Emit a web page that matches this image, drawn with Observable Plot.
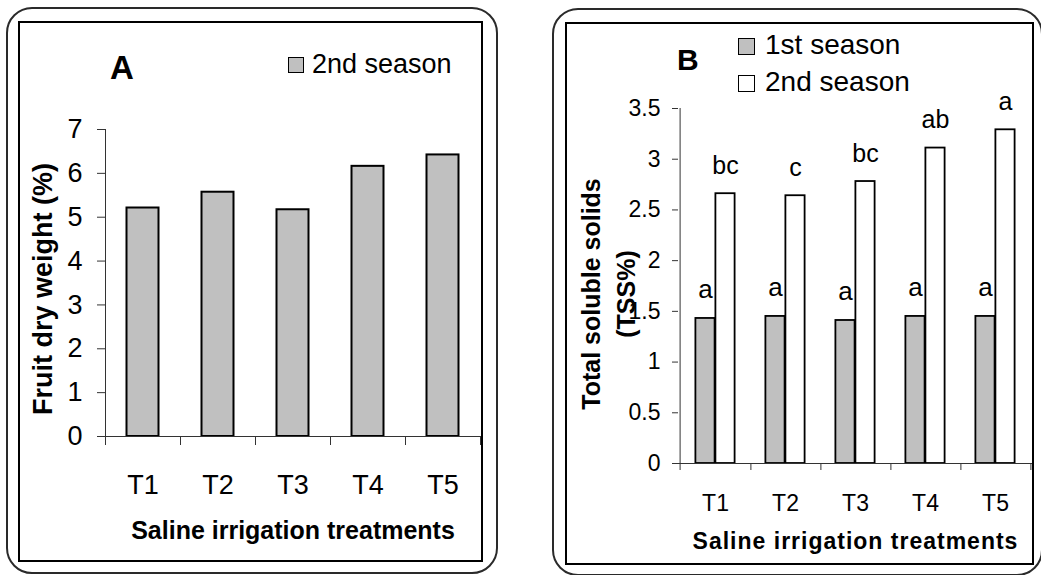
<!DOCTYPE html>
<html><head><meta charset="utf-8">
<script src="https://cdn.jsdelivr.net/npm/d3@7"></script>
<script src="https://cdn.jsdelivr.net/npm/@observablehq/plot@0.6"></script>
<style>
body{margin:0;background:#fff;font-family:"Liberation Sans",Arial,sans-serif;}
#wrap{position:relative;width:1041px;height:575px;overflow:hidden;background:#fff;}
.outer{position:absolute;border:2px solid #2a2a2a;border-radius:26px;box-sizing:border-box;}
.inner{position:absolute;border:2px solid #000;box-sizing:border-box;}
.plotbox{position:absolute;top:0;}
.lab{position:absolute;white-space:nowrap;line-height:1;color:#000;}
.sw{position:absolute;border:1.5px solid #000;box-sizing:border-box;}
</style></head>
<body><div id="wrap">
  <div class="outer" style="left:6px;top:7px;width:492px;height:567px;"></div>
  <div class="inner" style="left:18px;top:21px;width:465px;height:541px;"></div>
  <div class="outer" style="left:552px;top:8px;width:491px;height:568px;"></div>
  <div class="inner" style="left:565px;top:22px;width:469px;height:543px;"></div>
  <div id="plotA" class="plotbox" style="left:0px;"></div>
  <div id="plotB" class="plotbox" style="left:520px;"></div>
</div>
<script>
// ---- data ----
const treatments = ["T1", "T2", "T3", "T4", "T5"];
const dryWeight2nd = [5.21, 5.57, 5.17, 6.16, 6.42];
const yTicksA = [0, 1, 2, 3, 4, 5, 6, 7];
const tss1st = [1.43, 1.45, 1.41, 1.45, 1.45];
const tss2nd = [2.66, 2.64, 2.78, 3.11, 3.29];
const letters1st = ["a", "a", "a", "a", "a"];
const letters2nd = ["bc", "c", "bc", "ab", "a"];
const yTicksB = [0, 0.5, 1, 1.5, 2, 2.5, 3, 3.5];
const seriesNames = ["1st season", "2nd season"];
const xTitle = "Saline irrigation treatments";
const yTitleA = "Fruit dry weight (%)";
const yTitleB = "Total soluble solids\n(TSS%)";

const FONT = "'Liberation Sans', Arial, sans-serif";

// ---- Panel A ----
const dataA = treatments.map((t, i) => ({t, v: dryWeight2nd[i]}));
const A = {width: 520, height: 575, ml: 105, mr: 40, mt: 129, mb: 139};
const stepA = (A.width - A.ml - A.mr) / treatments.length;
const barWA = 32;
const plotA = Plot.plot({
  width: A.width, height: A.height,
  marginLeft: A.ml, marginRight: A.mr, marginTop: A.mt, marginBottom: A.mb,
  style: {background: "transparent", overflow: "visible", fontFamily: FONT, color: "#000"},
  x: {domain: treatments, padding: 0},
  y: {domain: [0, 7]},
  marks: [
    Plot.barY(dataA, {x: "t", y: "v", fill: "#c0c0c0", stroke: "#000", strokeWidth: 2,
      insetLeft: (stepA - barWA) / 2, insetRight: (stepA - barWA) / 2}),
    Plot.ruleY([0], {stroke: "#333"}),
    Plot.ruleX([treatments[0]], {x: d => d, dx: -stepA / 2, stroke: "#333", insetBottom: -9}),
    Plot.ruleX(treatments, {x: d => d, y1: 0, y2: 0, dx: stepA / 2, stroke: "#333", insetBottom: -9}),
    Plot.axisY({ticks: yTicksA, tickFormat: d => `${d}`, tickSize: 8, tickPadding: 15, fontSize: 27, stroke: "#333", fill: "#000", label: null}),
    Plot.axisX({tickSize: 0, tickPadding: 38, fontSize: 27, fill: "#000", label: null}),
    Plot.text([yTitleA], {frameAnchor: "left", textAnchor: "middle", rotate: -90, dx: -62, dy: 6, fontSize: 27, fontWeight: "bold", fill: "#000"}),
    Plot.text([xTitle], {frameAnchor: "bottom", dy: 102, lineAnchor: "bottom", fontSize: 25, fontWeight: "bold", fill: "#000"})
  ]
});
document.getElementById("plotA").append(plotA);

// ---- Panel B ----
const dataB = treatments.map((t, i) => ({t, s1: tss1st[i], s2: tss2nd[i], l1: letters1st[i], l2: letters2nd[i]}));
const B = {width: 521, height: 575, ml: 158, mr: 9, mt: 108, mb: 112};
const stepB = (B.width - B.ml - B.mr) / treatments.length;
const barWB = 20;
const outB = (stepB - 2 * barWB) / 2;
const plotB = Plot.plot({
  width: B.width, height: B.height,
  marginLeft: B.ml, marginRight: B.mr, marginTop: B.mt, marginBottom: B.mb,
  style: {background: "transparent", overflow: "visible", fontFamily: FONT, color: "#000"},
  x: {domain: treatments, padding: 0},
  y: {domain: [0, 3.5]},
  marks: [
    Plot.barY(dataB, {x: "t", y: "s1", fill: "#c0c0c0", stroke: "#000", strokeWidth: 1.8,
      insetLeft: outB, insetRight: outB + barWB}),
    Plot.barY(dataB, {x: "t", y: "s2", fill: "#fff", stroke: "#000", strokeWidth: 1.8,
      insetLeft: outB + barWB, insetRight: outB}),
    Plot.ruleY([0], {stroke: "#333"}),
    Plot.ruleX([treatments[0]], {x: d => d, dx: -stepB / 2, stroke: "#333", insetBottom: -7}),
    Plot.ruleX(treatments, {x: d => d, y1: 0, y2: 0, dx: stepB / 2, stroke: "#333", insetBottom: -7}),
    Plot.axisY({ticks: yTicksB, tickFormat: d => `${d}`, tickSize: 6, tickPadding: 12, fontSize: 23, stroke: "#333", fill: "#000", label: null}),
    Plot.axisX({tickSize: 0, tickPadding: 31, fontSize: 23, fill: "#000", label: null}),
    Plot.text(dataB, {x: "t", y: "s1", text: "l1", dx: -barWB / 2, dy: -20, lineAnchor: "bottom", fontSize: 26, fill: "#000"}),
    Plot.text(dataB, {x: "t", y: "s2", text: "l2", dx: barWB / 2, dy: -20, lineAnchor: "bottom", fontSize: 25, fill: "#000"}),
    Plot.text([yTitleB], {frameAnchor: "left", textAnchor: "middle", rotate: -90, dx: -72, dy: 8, lineHeight: 1.4, fontSize: 25, fontWeight: "bold", fill: "#000"}),
    Plot.text([xTitle], {frameAnchor: "bottom", dy: 85, lineAnchor: "bottom", fontSize: 23, fontWeight: "bold", fill: "#000"})
  ]
});
document.getElementById("plotB").append(plotB);
d3.select(plotB).selectAll("text").filter(function() { return this.textContent === xTitle; })
  .style("letter-spacing", "1px");

// ---- labels & legends (HTML) ----
const wrap = document.getElementById("wrap");
function label(text, left, baseline, size, bold) {
  const s = document.createElement("div");
  s.className = "lab";
  s.textContent = text;
  s.style.left = left + "px";
  s.style.top = (baseline - 0.8465 * size) + "px";
  s.style.fontSize = size + "px";
  if (bold) s.style.fontWeight = "bold";
  wrap.append(s);
}
function swatch(left, top, size, fill) {
  const d = document.createElement("div");
  d.className = "sw";
  d.style.left = left + "px"; d.style.top = top + "px";
  d.style.width = size + "px"; d.style.height = size + "px";
  d.style.background = fill;
  wrap.append(d);
}
label("A", 110, 79, 33, true);
swatch(288, 57, 16, "#c0c0c0");
label(seriesNames[1], 312, 74, 27, false);

label("B", 677, 70, 30, true);
swatch(738, 38, 17, "#c0c0c0");
label(seriesNames[0], 765, 55, 28, false);
swatch(738, 75, 17, "#fff");
label(seriesNames[1], 765, 92, 28, false);
</script>
</body></html>
